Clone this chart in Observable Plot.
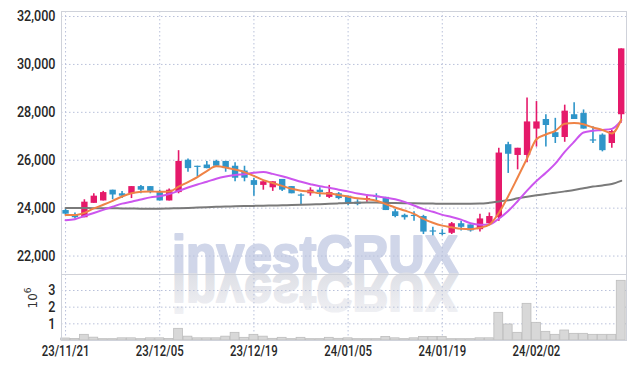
<!DOCTYPE html>
<html><head><meta charset="utf-8">
<script src="https://cdn.jsdelivr.net/npm/d3@7"></script>
<script src="https://cdn.jsdelivr.net/npm/@observablehq/plot@0.6"></script>
<style>
body{margin:0;background:#fff;}
#chart{position:relative;width:634px;height:368px;background:#fff;}
#chart svg{display:block;}
</style></head><body><div id="chart"></div>
<script>
// Trading days (KRX), 2023-11-21 .. 2024-02-19
const dates = ["23/11/21","23/11/22","23/11/23","23/11/24","23/11/27","23/11/28","23/11/29","23/11/30","23/12/01","23/12/04",
"23/12/05","23/12/06","23/12/07","23/12/08","23/12/11","23/12/12","23/12/13","23/12/14","23/12/15","23/12/18",
"23/12/19","23/12/20","23/12/21","23/12/22","23/12/26","23/12/27","23/12/28","24/01/02","24/01/03","24/01/04",
"24/01/05","24/01/08","24/01/09","24/01/10","24/01/11","24/01/12","24/01/15","24/01/16","24/01/17","24/01/18",
"24/01/19","24/01/22","24/01/23","24/01/24","24/01/25","24/01/26","24/01/29","24/01/30","24/01/31","24/02/01",
"24/02/02","24/02/05","24/02/06","24/02/07","24/02/08","24/02/13","24/02/14","24/02/15","24/02/16","24/02/19"];
const open = [23900,23700,23600,24200,24300,24750,24600,24600,24900,24900,24650,24300,24650,26000,25750,25800,25950,25950,25750,25550,25150,24950,24850,25200,24900,24550,24600,24750,24450,24600,24500,24250,24350,24500,24450,23850,23700,23700,23650,23050,22950,22950,23350,23300,23100,23350,23600,26650,26200,26200,27300,27700,27150,26950,27900,27950,26850,27050,26700,27900];
const high = [23950,23800,24350,24600,24700,24750,24700,24900,24950,24900,24750,24800,26400,26050,25750,25950,26000,25950,25900,25750,25250,25150,25100,25200,24900,24600,24850,24850,24950,24650,24500,24350,24500,24600,24450,23950,23750,23850,23700,23200,23100,23400,23450,23300,23750,23800,26500,26750,26500,28600,28450,27900,27750,28300,28400,28100,27400,27100,27250,30650];
const low = [23700,23550,23600,24200,24300,24350,24400,24400,24600,24600,24300,24300,24600,25500,25300,25650,25700,25500,25100,25100,24500,24750,24700,24700,24600,24150,24500,24450,24400,24350,24100,24100,24250,24300,23900,23600,23500,23450,22900,22850,22850,22900,23050,23000,23000,23300,23450,25450,25600,25900,26550,26550,26700,26750,27700,27300,26700,26350,26500,27550];
const close = [23750,23600,24250,24500,24650,24550,24500,24900,24750,24700,24300,24750,25950,25650,25700,25650,25750,25650,25250,25250,24950,25100,25100,24750,24600,24500,24750,24650,24650,24400,24200,24150,24400,24450,23900,23650,23600,23650,23000,23000,22900,23350,23200,23050,23550,23650,26300,26250,26500,27600,27600,27450,26950,28050,27700,27300,26800,26400,27200,30650];
// volume in millions of shares
const volume = [0.12,0.09,0.34,0.17,0.08,0.08,0.13,0.13,0.08,0.13,0.13,0.09,0.70,0.23,0.13,0.13,0.13,0.23,0.46,0.16,0.34,0.23,0.10,0.16,0.08,0.16,0.08,0.08,0.16,0.10,0.13,0.08,0.08,0.08,0.21,0.13,0.08,0.13,0.21,0.21,0.21,0.08,0.08,0.08,0.13,0.13,1.66,0.96,0.46,2.20,1.06,0.52,0.34,0.60,0.40,0.40,0.34,0.34,0.34,3.58];
const ma5 = [23710,23710,23805,23990,24140,24305,24485,24620,24680,24700,24680,24690,24895,25090,25295,25550,25745,25700,25610,25505,25345,25170,25050,24930,24810,24730,24690,24620,24610,24550,24480,24410,24370,24310,24170,24030,23900,23760,23550,23390,23270,23200,23140,23120,23180,23310,23800,24500,25280,26075,26875,27075,27230,27520,27555,27500,27370,27265,27120,27690];
const ma10 = [23500,23540,23670,23800,23930,24060,24190,24270,24360,24450,24500,24590,24720,24860,24990,25100,25230,25320,25380,25420,25480,25510,25430,25330,25220,25100,25000,24910,24850,24770,24700,24610,24550,24500,24440,24370,24260,24110,23960,23850,23720,23630,23520,23370,23310,23320,23560,23880,24290,24730,25130,25480,25860,26350,26770,27160,27230,27260,27310,27650];
const maLong = [24010,24010,24005,24000,24000,23995,23990,23985,23980,23980,23980,23990,24000,24010,24025,24040,24055,24065,24075,24085,24095,24100,24110,24120,24130,24140,24150,24165,24180,24200,24220,24230,24235,24235,24225,24215,24205,24200,24195,24190,24185,24185,24185,24185,24190,24225,24280,24330,24410,24480,24540,24590,24640,24700,24760,24830,24900,24950,25010,25140];
const priceTicks = [22000,24000,26000,28000,30000,32000];
const volTicks = [1,2,3];
const dateTickIdx = [0,10,20,30,40,50];
const watermark = "investCRUX";

const data = dates.map((d,i)=>({i, date:d, open:open[i], high:high[i], low:low[i], close:close[i],
  volume:volume[i], ma5:ma5[i], ma10:ma10[i], maLong:maLong[i], up: close[i] >= open[i]}));

const RED = "#e5196a", BLUE = "#2f95c9";
const FONT = "Roboto, 'Liberation Sans', sans-serif";
const GRID = {stroke:"#b9c1da", strokeOpacity:1, strokeDasharray:"1.5,2.5", strokeWidth:1};
const xDomain = [-0.43, 59.56];

const p1 = Plot.plot({
  width:634, height:274, marginLeft:61, marginRight:8, marginTop:11, marginBottom:0,
  style:{fontFamily:FONT, fontSize:"15px", fontWeight:"500", background:"transparent", overflow:"visible"},
  x:{domain:xDomain, axis:null},
  y:{domain:[21230, 32210], axis:null},
  marks:[
    Plot.gridY(priceTicks, GRID),
    Plot.gridX(dateTickIdx, GRID),
    Plot.frame({stroke:"#cfd2da"}),
    Plot.ruleX(data, {x:"i", y1:"low", y2:"high", stroke:d=>d.up?RED:BLUE, strokeWidth:1.6}),
    Plot.ruleX(data, {x:"i", y1:"open", y2:"close", stroke:d=>d.up?RED:BLUE, strokeWidth:6.4}),
    Plot.line(data, {x:"i", y:"maLong", stroke:"#7a7a7a", strokeWidth:2, curve:"monotone-x"}),
    Plot.line(data, {x:"i", y:"ma10", stroke:"#cc55ee", strokeWidth:2, curve:"monotone-x"}),
    Plot.line(data, {x:"i", y:"ma5", stroke:"#ef8346", strokeWidth:2, curve:"monotone-x"}),
    Plot.axisY(priceTicks, {anchor:"left", tickSize:0, tickPadding:6, tickFormat:d3.format(","), fill:"#262626", fontSize:15, label:null})
  ]
});

const p2 = Plot.plot({
  width:634, height:94, marginLeft:61, marginRight:8, marginTop:0, marginBottom:28,
  style:{fontFamily:FONT, fontSize:"15px", fontWeight:"500", background:"transparent", overflow:"visible"},
  x:{domain:xDomain, axis:null},
  y:{domain:[0, 3.96], axis:null},
  marks:[
    Plot.gridY(volTicks, GRID),
    Plot.gridX(dateTickIdx, GRID),
    Plot.rectY(data, {x1:d=>d.i-0.47, x2:d=>d.i+0.47, y:"volume", fill:"#d8d8d8", stroke:"#bdbdbd", strokeWidth:0.8}),
    Plot.frame({stroke:"#cfd2da"}),
    Plot.axisY(volTicks, {anchor:"left", tickSize:0, tickPadding:6, fill:"#262626", fontSize:15, label:null}),
    Plot.axisX(dateTickIdx, {anchor:"bottom", tickSize:0, tickPadding:5, tickFormat:i=>dates[i], fill:"#262626", fontSize:15, label:null})
  ]
});

// condense tick label glyphs (reference uses a narrow face)
function condense(svgNode, sel, k){
  d3.select(svgNode).selectAll(sel).each(function(){
    const t = this.getAttribute("transform") || "";
    this.setAttribute("transform", t + ` scale(${k},1)`);
  });
}
condense(p1, "g[aria-label='y-axis tick label'] text", 0.84);
condense(p2, "g[aria-label='y-axis tick label'] text", 0.84);
condense(p2, "g[aria-label='x-axis tick label'] text", 0.76);

function insertUnder(svgNode){
  const g = document.createElementNS("http://www.w3.org/2000/svg","g");
  const st = svgNode.querySelector("style");
  svgNode.insertBefore(g, st ? st.nextSibling : svgNode.firstChild);
  return d3.select(g);
}
// watermark + reflection
insertUnder(p1).append("text")
  .attr("x", 315).attr("y", 273).attr("text-anchor","middle")
  .attr("font-family","'Liberation Sans', Arial, sans-serif").attr("font-weight","bold")
  .attr("font-size", 53).attr("textLength", 286).attr("lengthAdjust","spacingAndGlyphs")
  .attr("fill","#d0d6e9").attr("stroke","#d0d6e9").attr("stroke-width",2.2).attr("stroke-linejoin","round")
  .text(watermark);

const s2 = d3.select(p2);
const defs = s2.append("defs");
const grad = defs.append("linearGradient").attr("id","wmfade").attr("x1",0).attr("y1",0).attr("x2",0).attr("y2",1);
grad.append("stop").attr("offset","0").attr("stop-color","#f4f4f7");
grad.append("stop").attr("offset","1").attr("stop-color","#d9dbe2");
insertUnder(p2).append("text")
  .attr("transform","translate(315,0) scale(1,-1)").attr("x",0).attr("y",0).attr("text-anchor","middle")
  .attr("font-family","'Liberation Sans', Arial, sans-serif").attr("font-weight","bold")
  .attr("font-size", 53).attr("textLength", 286).attr("lengthAdjust","spacingAndGlyphs")
  .attr("fill","url(#wmfade)").attr("stroke","url(#wmfade)").attr("stroke-width",2.2).attr("stroke-linejoin","round")
  .text(watermark);

// volume unit label 10^6
const lab = s2.append("text").attr("transform","translate(37,24) rotate(-90)")
  .attr("text-anchor","middle").attr("fill","#333").attr("font-family","'DejaVu Sans', sans-serif").attr("font-size",12);
lab.append("tspan").text("10");
lab.append("tspan").attr("dy",-6).attr("font-size",9).text("6");

const chart = document.getElementById("chart");
chart.append(p1, p2);
</script></body></html>
